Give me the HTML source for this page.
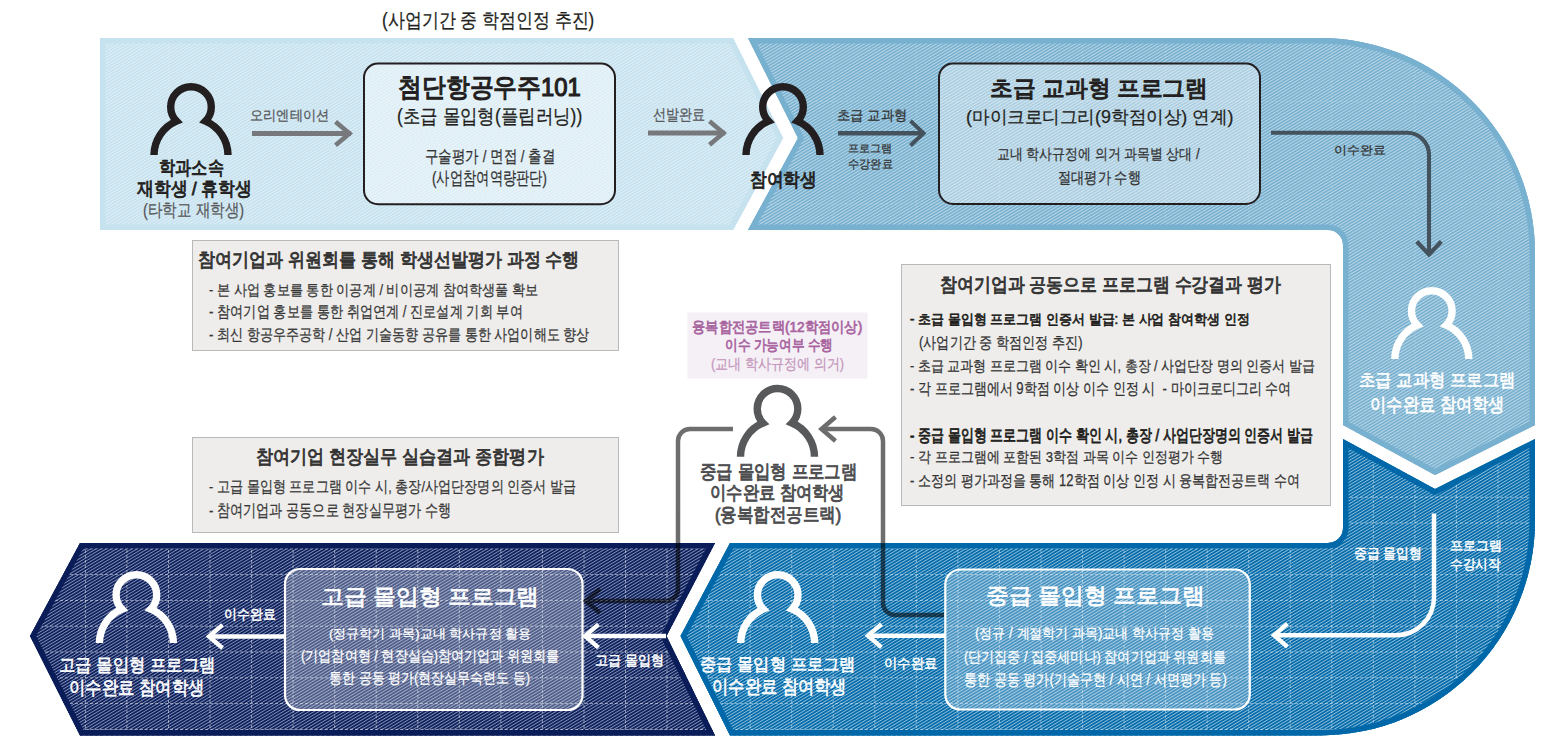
<!DOCTYPE html>
<html><head><meta charset="utf-8"><style>
html,body{margin:0;padding:0;background:#fff;}
body{width:1548px;height:743px;position:relative;overflow:hidden;font-family:"Liberation Sans",sans-serif;}
.t{position:absolute;white-space:pre;line-height:1;transform-origin:0 0;}
</style></head><body>
<svg width="1548" height="743" viewBox="0 0 1548 743" style="position:absolute;left:0;top:0"><defs><pattern id="hA" width="2.65" height="2.65" patternUnits="userSpaceOnUse" patternTransform="rotate(-31)"><rect width="2.65" height="2.65" fill="#c6e2ef"/><rect width="2.65" height="0.95" fill="#e0eff7"/></pattern><pattern id="hB" width="2.65" height="2.65" patternUnits="userSpaceOnUse" patternTransform="rotate(-31)"><rect width="2.65" height="2.65" fill="#78b0cf"/><rect width="2.65" height="0.95" fill="#bcd9e8"/></pattern><pattern id="hC" width="2.65" height="2.65" patternUnits="userSpaceOnUse" patternTransform="rotate(-31)"><rect width="2.65" height="2.65" fill="#0068a8"/><rect width="2.65" height="0.95" fill="#8ebfdc"/></pattern><pattern id="hD" width="2.65" height="2.65" patternUnits="userSpaceOnUse" patternTransform="rotate(-31)"><rect width="2.65" height="2.65" fill="#0a1d58"/><rect width="2.65" height="0.95" fill="#8390b8"/></pattern></defs><clipPath id="cA"><path d="M100,38 H733 L783,138 L733,230 H100 Z"/></clipPath><path d="M100,38 H733 L783,138 L733,230 H100 Z" fill="#c6e2ef"/><g clip-path="url(#cA)"><rect x="0" y="0" width="1548" height="743" fill="url(#hA)"/><g stroke="#ffffff" stroke-opacity="0.15" stroke-width="1" stroke-dasharray="3 2"><line x1="85.4" y1="0" x2="85.4" y2="743"/><line x1="168.5" y1="0" x2="168.5" y2="743"/><line x1="251.6" y1="0" x2="251.6" y2="743"/><line x1="334.7" y1="0" x2="334.7" y2="743"/><line x1="417.8" y1="0" x2="417.8" y2="743"/><line x1="500.9" y1="0" x2="500.9" y2="743"/><line x1="584.0" y1="0" x2="584.0" y2="743"/><line x1="667.0" y1="0" x2="667.0" y2="743"/><line x1="750.1" y1="0" x2="750.1" y2="743"/><line x1="833.2" y1="0" x2="833.2" y2="743"/><line x1="916.3" y1="0" x2="916.3" y2="743"/><line x1="999.4" y1="0" x2="999.4" y2="743"/><line x1="1082.5" y1="0" x2="1082.5" y2="743"/><line x1="1165.6" y1="0" x2="1165.6" y2="743"/><line x1="1248.7" y1="0" x2="1248.7" y2="743"/><line x1="1331.8" y1="0" x2="1331.8" y2="743"/><line x1="1414.9" y1="0" x2="1414.9" y2="743"/><line x1="1498.0" y1="0" x2="1498.0" y2="743"/><line x1="1581.1" y1="0" x2="1581.1" y2="743"/><line x1="0" y1="101.5" x2="1548" y2="101.5"/><line x1="0" y1="204.0" x2="1548" y2="204.0"/></g><path d="M100,38 H733 L783,138 L733,230 H100 Z" fill="none" stroke="#c6e2ef" stroke-width="11"/></g><clipPath id="cB"><path d="M748,38 H1320 A215,215 0 0 1 1535,253 V425 L1435,475 L1343,425 V245 A15,15 0 0 0 1328,230 H748 L798,138 Z"/></clipPath><path d="M748,38 H1320 A215,215 0 0 1 1535,253 V425 L1435,475 L1343,425 V245 A15,15 0 0 0 1328,230 H748 L798,138 Z" fill="#78b0cf"/><g clip-path="url(#cB)"><rect x="0" y="0" width="1548" height="743" fill="url(#hB)"/><g stroke="#ffffff" stroke-opacity="0.15" stroke-width="1" stroke-dasharray="3 2"><line x1="85.4" y1="0" x2="85.4" y2="743"/><line x1="168.5" y1="0" x2="168.5" y2="743"/><line x1="251.6" y1="0" x2="251.6" y2="743"/><line x1="334.7" y1="0" x2="334.7" y2="743"/><line x1="417.8" y1="0" x2="417.8" y2="743"/><line x1="500.9" y1="0" x2="500.9" y2="743"/><line x1="584.0" y1="0" x2="584.0" y2="743"/><line x1="667.0" y1="0" x2="667.0" y2="743"/><line x1="750.1" y1="0" x2="750.1" y2="743"/><line x1="833.2" y1="0" x2="833.2" y2="743"/><line x1="916.3" y1="0" x2="916.3" y2="743"/><line x1="999.4" y1="0" x2="999.4" y2="743"/><line x1="1082.5" y1="0" x2="1082.5" y2="743"/><line x1="1165.6" y1="0" x2="1165.6" y2="743"/><line x1="1248.7" y1="0" x2="1248.7" y2="743"/><line x1="1331.8" y1="0" x2="1331.8" y2="743"/><line x1="1414.9" y1="0" x2="1414.9" y2="743"/><line x1="1498.0" y1="0" x2="1498.0" y2="743"/><line x1="1581.1" y1="0" x2="1581.1" y2="743"/><line x1="0" y1="101.5" x2="1548" y2="101.5"/><line x1="0" y1="204.0" x2="1548" y2="204.0"/></g><path d="M748,38 H1320 A215,215 0 0 1 1535,253 V425 L1435,475 L1343,425 V245 A15,15 0 0 0 1328,230 H748 L798,138 Z" fill="none" stroke="#78b0cf" stroke-width="11"/></g><clipPath id="cC"><path d="M730,543 H1328 A15,15 0 0 0 1343,528 V439 L1435,489 L1535,439 V520.5 A215,215 0 0 1 1320,735.5 H730 L680.5,636 Z"/></clipPath><path d="M730,543 H1328 A15,15 0 0 0 1343,528 V439 L1435,489 L1535,439 V520.5 A215,215 0 0 1 1320,735.5 H730 L680.5,636 Z" fill="#0068a8"/><g clip-path="url(#cC)"><rect x="0" y="0" width="1548" height="743" fill="url(#hC)"/><g stroke="#ffffff" stroke-opacity="0.45" stroke-width="1" stroke-dasharray="3 2"><line x1="85.4" y1="0" x2="85.4" y2="743"/><line x1="126.9" y1="0" x2="126.9" y2="743"/><line x1="168.5" y1="0" x2="168.5" y2="743"/><line x1="210.0" y1="0" x2="210.0" y2="743"/><line x1="251.6" y1="0" x2="251.6" y2="743"/><line x1="293.1" y1="0" x2="293.1" y2="743"/><line x1="334.7" y1="0" x2="334.7" y2="743"/><line x1="376.2" y1="0" x2="376.2" y2="743"/><line x1="417.8" y1="0" x2="417.8" y2="743"/><line x1="459.3" y1="0" x2="459.3" y2="743"/><line x1="500.9" y1="0" x2="500.9" y2="743"/><line x1="542.4" y1="0" x2="542.4" y2="743"/><line x1="584.0" y1="0" x2="584.0" y2="743"/><line x1="625.5" y1="0" x2="625.5" y2="743"/><line x1="667.0" y1="0" x2="667.0" y2="743"/><line x1="708.6" y1="0" x2="708.6" y2="743"/><line x1="750.1" y1="0" x2="750.1" y2="743"/><line x1="791.7" y1="0" x2="791.7" y2="743"/><line x1="833.2" y1="0" x2="833.2" y2="743"/><line x1="874.8" y1="0" x2="874.8" y2="743"/><line x1="916.3" y1="0" x2="916.3" y2="743"/><line x1="957.9" y1="0" x2="957.9" y2="743"/><line x1="999.4" y1="0" x2="999.4" y2="743"/><line x1="1041.0" y1="0" x2="1041.0" y2="743"/><line x1="1082.5" y1="0" x2="1082.5" y2="743"/><line x1="1124.1" y1="0" x2="1124.1" y2="743"/><line x1="1165.6" y1="0" x2="1165.6" y2="743"/><line x1="1207.1" y1="0" x2="1207.1" y2="743"/><line x1="1248.7" y1="0" x2="1248.7" y2="743"/><line x1="1290.2" y1="0" x2="1290.2" y2="743"/><line x1="1331.8" y1="0" x2="1331.8" y2="743"/><line x1="1373.3" y1="0" x2="1373.3" y2="743"/><line x1="1414.9" y1="0" x2="1414.9" y2="743"/><line x1="1456.4" y1="0" x2="1456.4" y2="743"/><line x1="1498.0" y1="0" x2="1498.0" y2="743"/><line x1="1539.5" y1="0" x2="1539.5" y2="743"/><line x1="1581.1" y1="0" x2="1581.1" y2="743"/><line x1="1622.6" y1="0" x2="1622.6" y2="743"/><line x1="0" y1="497.2" x2="1548" y2="497.2"/><line x1="0" y1="523.0" x2="1548" y2="523.0"/><line x1="0" y1="548.8" x2="1548" y2="548.8"/><line x1="0" y1="574.6" x2="1548" y2="574.6"/><line x1="0" y1="600.4" x2="1548" y2="600.4"/><line x1="0" y1="626.2" x2="1548" y2="626.2"/><line x1="0" y1="652.0" x2="1548" y2="652.0"/><line x1="0" y1="677.8" x2="1548" y2="677.8"/><line x1="0" y1="703.6" x2="1548" y2="703.6"/><line x1="0" y1="729.4" x2="1548" y2="729.4"/></g><path d="M730,543 H1328 A15,15 0 0 0 1343,528 V439 L1435,489 L1535,439 V520.5 A215,215 0 0 1 1320,735.5 H730 L680.5,636 Z" fill="none" stroke="#0068a8" stroke-width="11"/></g><clipPath id="cD"><path d="M80,543 H715 L666.5,636 L715,735.5 H80 L30,636 Z"/></clipPath><path d="M80,543 H715 L666.5,636 L715,735.5 H80 L30,636 Z" fill="#0a1d58"/><g clip-path="url(#cD)"><rect x="0" y="0" width="1548" height="743" fill="url(#hD)"/><g stroke="#ffffff" stroke-opacity="0.5" stroke-width="1" stroke-dasharray="3 2"><line x1="85.4" y1="0" x2="85.4" y2="743"/><line x1="126.9" y1="0" x2="126.9" y2="743"/><line x1="168.5" y1="0" x2="168.5" y2="743"/><line x1="210.0" y1="0" x2="210.0" y2="743"/><line x1="251.6" y1="0" x2="251.6" y2="743"/><line x1="293.1" y1="0" x2="293.1" y2="743"/><line x1="334.7" y1="0" x2="334.7" y2="743"/><line x1="376.2" y1="0" x2="376.2" y2="743"/><line x1="417.8" y1="0" x2="417.8" y2="743"/><line x1="459.3" y1="0" x2="459.3" y2="743"/><line x1="500.9" y1="0" x2="500.9" y2="743"/><line x1="542.4" y1="0" x2="542.4" y2="743"/><line x1="584.0" y1="0" x2="584.0" y2="743"/><line x1="625.5" y1="0" x2="625.5" y2="743"/><line x1="667.0" y1="0" x2="667.0" y2="743"/><line x1="708.6" y1="0" x2="708.6" y2="743"/><line x1="750.1" y1="0" x2="750.1" y2="743"/><line x1="791.7" y1="0" x2="791.7" y2="743"/><line x1="833.2" y1="0" x2="833.2" y2="743"/><line x1="874.8" y1="0" x2="874.8" y2="743"/><line x1="916.3" y1="0" x2="916.3" y2="743"/><line x1="957.9" y1="0" x2="957.9" y2="743"/><line x1="999.4" y1="0" x2="999.4" y2="743"/><line x1="1041.0" y1="0" x2="1041.0" y2="743"/><line x1="1082.5" y1="0" x2="1082.5" y2="743"/><line x1="1124.1" y1="0" x2="1124.1" y2="743"/><line x1="1165.6" y1="0" x2="1165.6" y2="743"/><line x1="1207.1" y1="0" x2="1207.1" y2="743"/><line x1="1248.7" y1="0" x2="1248.7" y2="743"/><line x1="1290.2" y1="0" x2="1290.2" y2="743"/><line x1="1331.8" y1="0" x2="1331.8" y2="743"/><line x1="1373.3" y1="0" x2="1373.3" y2="743"/><line x1="1414.9" y1="0" x2="1414.9" y2="743"/><line x1="1456.4" y1="0" x2="1456.4" y2="743"/><line x1="1498.0" y1="0" x2="1498.0" y2="743"/><line x1="1539.5" y1="0" x2="1539.5" y2="743"/><line x1="1581.1" y1="0" x2="1581.1" y2="743"/><line x1="1622.6" y1="0" x2="1622.6" y2="743"/><line x1="0" y1="497.2" x2="1548" y2="497.2"/><line x1="0" y1="523.0" x2="1548" y2="523.0"/><line x1="0" y1="548.8" x2="1548" y2="548.8"/><line x1="0" y1="574.6" x2="1548" y2="574.6"/><line x1="0" y1="600.4" x2="1548" y2="600.4"/><line x1="0" y1="626.2" x2="1548" y2="626.2"/><line x1="0" y1="652.0" x2="1548" y2="652.0"/><line x1="0" y1="677.8" x2="1548" y2="677.8"/><line x1="0" y1="703.6" x2="1548" y2="703.6"/><line x1="0" y1="729.4" x2="1548" y2="729.4"/></g><path d="M80,543 H715 L666.5,636 L715,735.5 H80 L30,636 Z" fill="none" stroke="#0a1d58" stroke-width="11"/></g><rect x="364" y="63.6" width="251" height="140.6" rx="14" fill="#ffffff" fill-opacity="0.4" stroke="#231f20" stroke-width="2"/><rect x="939" y="63.6" width="321" height="140.4" rx="14" fill="#ffffff" fill-opacity="0.38" stroke="#231f20" stroke-width="2"/><rect x="285" y="569" width="297.5" height="141" rx="15" fill="#ffffff" fill-opacity="0.28" stroke="#ffffff" stroke-width="2.2"/><rect x="945.3" y="569.5" width="304.5" height="140" rx="15" fill="#ffffff" fill-opacity="0.28" stroke="#ffffff" stroke-width="2.2"/><rect x="192.5" y="240.5" width="426" height="110" fill="#eeedeb" stroke="#b9b9b9" stroke-width="1"/><rect x="192.5" y="437.5" width="426" height="95" fill="#eeedeb" stroke="#b9b9b9" stroke-width="1"/><rect x="901.5" y="264.5" width="429" height="241" fill="#eeedeb" stroke="#b9b9b9" stroke-width="1"/><rect x="687.5" y="312.5" width="180" height="66" fill="#f5eff6"/><line x1="252" y1="133.5" x2="351" y2="133.5" stroke="#77787b" stroke-width="5"/><polyline points="335.5,121.7 349.5,133.5 335.5,145.3" fill="none" stroke="#77787b" stroke-width="4.6" stroke-linejoin="miter" stroke-miterlimit="10"/><line x1="648" y1="133" x2="725" y2="133" stroke="#77787b" stroke-width="5"/><polyline points="709.5,121.2 723.5,133 709.5,144.8" fill="none" stroke="#77787b" stroke-width="4.6" stroke-linejoin="miter" stroke-miterlimit="10"/><line x1="838" y1="133.2" x2="922" y2="133.2" stroke="#44525e" stroke-width="4.4"/><polyline points="910.5,120.89999999999999 923.5,133.2 910.5,145.5" fill="none" stroke="#44525e" stroke-width="4.0" stroke-linejoin="miter" stroke-miterlimit="10"/><path d="M1271,132.8 H1407 A22,22 0 0 1 1429,154.8 V253" fill="none" stroke="#44525e" stroke-width="4.1"/><polyline points="1416.7,241.5 1429,254.5 1441.3,241.5" fill="none" stroke="#44525e" stroke-width="4.1" stroke-linejoin="miter" stroke-miterlimit="10"/><path d="M154.0,155.0 A37,37 0 0 1 176.5,121.2 A20.3,20.3 0 1 1 205.5,121.2 A37,37 0 0 1 228.0,155.0" fill="none" stroke="#231f20" stroke-width="7.4" stroke-linejoin="miter" stroke-miterlimit="4"/><path d="M746.0,155.0 A37,37 0 0 1 768.5,121.2 A20.3,20.3 0 1 1 797.5,121.2 A37,37 0 0 1 820.0,155.0" fill="none" stroke="#231f20" stroke-width="7.4" stroke-linejoin="miter" stroke-miterlimit="4"/><path d="M1394.8,359.0 A37,37 0 0 1 1417.3,325.2 A20.3,20.3 0 1 1 1446.3,325.2 A37,37 0 0 1 1468.8,359.0" fill="none" stroke="#ffffff" stroke-width="7.4" stroke-linejoin="miter" stroke-miterlimit="4"/><path d="M740.5,456.8 A37,37 0 0 1 763.0,423.0 A20.3,20.3 0 1 1 792.0,423.0 A37,37 0 0 1 814.5,456.8" fill="none" stroke="#58595b" stroke-width="7.4" stroke-linejoin="miter" stroke-miterlimit="4"/><path d="M99.4,643.0 A37,37 0 0 1 121.9,609.2 A20.3,20.3 0 1 1 150.9,609.2 A37,37 0 0 1 173.4,643.0" fill="none" stroke="#ffffff" stroke-width="7.4" stroke-linejoin="miter" stroke-miterlimit="4"/><path d="M740.7,643.0 A37,37 0 0 1 763.2,609.2 A20.3,20.3 0 1 1 792.2,609.2 A37,37 0 0 1 814.7,643.0" fill="none" stroke="#ffffff" stroke-width="7.4" stroke-linejoin="miter" stroke-miterlimit="4"/><g opacity="0.57"><path d="M733,429 H690 A12,12 0 0 0 678,441 V589 A12,12 0 0 1 666,601 H587" fill="none" stroke="#000" stroke-width="4.5"/><polyline points="600,589 586,601 600,613" fill="none" stroke="#000" stroke-width="4.5" stroke-linejoin="miter" stroke-miterlimit="10"/><path d="M944,615 H895 A12,12 0 0 1 883,603 V441 A12,12 0 0 0 871,429 H822" fill="none" stroke="#000" stroke-width="4.5"/><polyline points="835.5,417 821.5,429 835.5,441" fill="none" stroke="#000" stroke-width="4.5" stroke-linejoin="miter" stroke-miterlimit="10"/></g><line x1="209" y1="636.5" x2="284" y2="636.5" stroke="#fff" stroke-width="4.5"/><polyline points="222.5,624.9 209,636.5 222.5,648.1" fill="none" stroke="#fff" stroke-width="4.4" stroke-linejoin="miter" stroke-miterlimit="10"/><line x1="585" y1="636" x2="666" y2="636" stroke="#fff" stroke-width="4.5"/><polyline points="598.5,624.4 585,636 598.5,647.6" fill="none" stroke="#fff" stroke-width="4.4" stroke-linejoin="miter" stroke-miterlimit="10"/><line x1="868" y1="635.7" x2="945" y2="635.7" stroke="#fff" stroke-width="4.5"/><polyline points="881.5,624.1 868,635.7 881.5,647.3000000000001" fill="none" stroke="#fff" stroke-width="4.4" stroke-linejoin="miter" stroke-miterlimit="10"/><path d="M1434,513.6 V597.3 A38,38 0 0 1 1396,635.3 H1275" fill="none" stroke="#fff" stroke-width="4.5"/><polyline points="1287.5,623.6999999999999 1274,635.3 1287.5,646.9" fill="none" stroke="#fff" stroke-width="4.4" stroke-linejoin="miter" stroke-miterlimit="10"/></svg>
<div class="t" style="left:381.86px;top:10.33px;font-size:20.00px;font-weight:400;color:#231f20;-webkit-text-stroke:0.25px #231f20;transform:scaleX(0.8491)">(사업기간 중 학점인정 추진)</div><div class="t" style="left:398.40px;top:73.83px;font-size:26.01px;font-weight:400;color:#231f20;-webkit-text-stroke:1.22px #231f20;transform:scaleX(0.9167)">첨단항공우주101</div><div class="t" style="left:396.84px;top:106.33px;font-size:20.00px;font-weight:400;color:#231f20;-webkit-text-stroke:0.25px #231f20;transform:scaleX(0.8728)">(초급 몰입형(플립러닝))</div><div class="t" style="left:424.89px;top:148.88px;font-size:16.80px;font-weight:400;color:#333333;-webkit-text-stroke:0.25px #333333;transform:scaleX(0.7938)">구술평가 / 면접 / 출결</div><div class="t" style="left:432.12px;top:170.45px;font-size:17.96px;font-weight:400;color:#333333;-webkit-text-stroke:0.25px #333333;transform:scaleX(0.7375)">(사업참여역량판단)</div><div class="t" style="left:158.89px;top:158.38px;font-size:19.44px;font-weight:400;color:#231f20;-webkit-text-stroke:0.92px #231f20;transform:scaleX(0.8517)">학과소속</div><div class="t" style="left:136.72px;top:180.38px;font-size:18.78px;font-weight:400;color:#231f20;-webkit-text-stroke:0.9px #231f20;transform:scaleX(0.8849)">재학생 / 휴학생</div><div class="t" style="left:143.04px;top:202.43px;font-size:17.96px;font-weight:400;color:#58595b;-webkit-text-stroke:0.25px #58595b;transform:scaleX(0.8090)">(타학교 재학생)</div><div class="t" style="left:250.10px;top:107.80px;font-size:14.44px;font-weight:400;color:#58595b;-webkit-text-stroke:0.25px #58595b;transform:scaleX(0.9414)">오리엔테이션</div><div class="t" style="left:653.35px;top:106.68px;font-size:15.81px;font-weight:400;color:#58595b;-webkit-text-stroke:0.25px #58595b;transform:scaleX(0.8161)">선발완료</div><div class="t" style="left:749.88px;top:170.36px;font-size:19.16px;font-weight:400;color:#231f20;-webkit-text-stroke:0.91px #231f20;transform:scaleX(0.8791)">참여학생</div><div class="t" style="left:837.10px;top:107.82px;font-size:14.11px;font-weight:400;color:#333333;-webkit-text-stroke:0.25px #333333;transform:scaleX(0.9522)">초급 교과형</div><div class="t" style="left:848.29px;top:143.10px;font-size:10.78px;font-weight:400;color:#333333;-webkit-text-stroke:0.25px #333333;transform:scaleX(1.0065)">프로그램</div><div class="t" style="left:848.24px;top:157.98px;font-size:12.22px;font-weight:400;color:#333333;-webkit-text-stroke:0.25px #333333;transform:scaleX(0.9335)">수강완료</div><div class="t" style="left:990.46px;top:77.00px;font-size:23.49px;font-weight:400;color:#231f20;-webkit-text-stroke:1.11px #231f20;transform:scaleX(0.9900)">초급 교과형 프로그램</div><div class="t" style="left:965.81px;top:108.47px;font-size:18.32px;font-weight:400;color:#231f20;-webkit-text-stroke:0.25px #231f20;transform:scaleX(0.9771)">(마이크로디그리(9학점이상) 연계)</div><div class="t" style="left:997.11px;top:145.71px;font-size:15.44px;font-weight:400;color:#333333;-webkit-text-stroke:0.25px #333333;transform:scaleX(0.8597)">교내 학사규정에 의거 과목별 상대 /</div><div class="t" style="left:1058.14px;top:169.63px;font-size:15.73px;font-weight:400;color:#333333;-webkit-text-stroke:0.25px #333333;transform:scaleX(0.8260)">절대평가 수행</div><div class="t" style="left:1333.75px;top:144.95px;font-size:11.90px;font-weight:400;color:#333333;-webkit-text-stroke:0.25px #333333;transform:scaleX(1.0761)">이수완료</div><div class="t" style="left:197.86px;top:250.36px;font-size:19.16px;font-weight:400;color:#333333;-webkit-text-stroke:0.91px #333333;transform:scaleX(0.8963)">참여기업과 위원회를 통해 학생선발평가 과정 수행</div><div class="t" style="left:209.32px;top:282.67px;font-size:14.56px;font-weight:400;color:#383838;-webkit-text-stroke:0.25px #383838;transform:scaleX(0.8778)">- 본 사업 홍보를 통한 이공계 / 비이공계 참여학생풀 확보</div><div class="t" style="left:209.34px;top:302.66px;font-size:16.11px;font-weight:400;color:#383838;-webkit-text-stroke:0.25px #383838;transform:scaleX(0.8221)">- 참여기업 홍보를 통한 취업연계 / 진로설계 기회 부여</div><div class="t" style="left:209.35px;top:325.66px;font-size:16.11px;font-weight:400;color:#383838;-webkit-text-stroke:0.25px #383838;transform:scaleX(0.8162)">- 최신 항공우주공학 / 산업 기술동향 공유를 통한 사업이해도 향상</div><div class="t" style="left:255.89px;top:448.39px;font-size:18.57px;font-weight:400;color:#333333;-webkit-text-stroke:0.89px #333333;transform:scaleX(0.9003)">참여기업 현장실무 실습결과 종합평가</div><div class="t" style="left:209.34px;top:478.62px;font-size:15.53px;font-weight:400;color:#383838;-webkit-text-stroke:0.25px #383838;transform:scaleX(0.8193)">- 고급 몰입형 프로그램 이수 시, 총장/사업단장명의 인증서 발급</div><div class="t" style="left:209.34px;top:501.57px;font-size:17.11px;font-weight:400;color:#383838;-webkit-text-stroke:0.25px #383838;transform:scaleX(0.7711)">- 참여기업과 공동으로 현장실무평가 수행</div><div class="t" style="left:939.84px;top:275.38px;font-size:19.44px;font-weight:400;color:#333333;-webkit-text-stroke:0.92px #333333;transform:scaleX(0.8912)">참여기업과 공동으로 프로그램 수강결과 평가</div><div class="t" style="left:910.34px;top:311.80px;font-size:14.23px;font-weight:400;color:#231f20;-webkit-text-stroke:0.69px #231f20;transform:scaleX(0.9276)">- 초급 몰입형 프로그램 인증서 발급: 본 사업 참여학생 인정</div><div class="t" style="left:919.14px;top:334.68px;font-size:15.79px;font-weight:400;color:#333333;-webkit-text-stroke:0.25px #333333;transform:scaleX(0.8195)">(사업기간 중 학점인정 추진)</div><div class="t" style="left:910.34px;top:358.74px;font-size:14.58px;font-weight:400;color:#333333;-webkit-text-stroke:0.25px #333333;transform:scaleX(0.8676)">- 초급 교과형 프로그램 이수 확인 시, 총장 / 사업단장 명의 인증서 발급</div><div class="t" style="left:910.35px;top:379.66px;font-size:16.11px;font-weight:400;color:#333333;-webkit-text-stroke:0.25px #333333;transform:scaleX(0.8131)">- 각 프로그램에서 9학점 이상 이수 인정 시  - 마이크로디그리 수여</div><div class="t" style="left:910.34px;top:426.57px;font-size:17.11px;font-weight:400;color:#231f20;-webkit-text-stroke:0.82px #231f20;transform:scaleX(0.7658)">- 중급 몰입형 프로그램 이수 확인 시, 총장 / 사업단장명의 인증서 발급</div><div class="t" style="left:910.35px;top:448.70px;font-size:15.22px;font-weight:400;color:#333333;-webkit-text-stroke:0.25px #333333;transform:scaleX(0.8650)">- 각 프로그램에 포함된 3학점 과목 이수 인정평가 수행</div><div class="t" style="left:910.35px;top:472.60px;font-size:15.93px;font-weight:400;color:#333333;-webkit-text-stroke:0.25px #333333;transform:scaleX(0.8147)">- 소정의 평가과정을 통해 12학점 이상 인정 시 융복합전공트랙 수여</div><div class="t" style="left:692.11px;top:318.72px;font-size:15.37px;font-weight:400;color:#a8649f;-webkit-text-stroke:0.74px #a8649f;transform:scaleX(0.8850)">융복합전공트랙(12학점이상)</div><div class="t" style="left:724.77px;top:337.78px;font-size:14.58px;font-weight:400;color:#a8649f;-webkit-text-stroke:0.71px #a8649f;transform:scaleX(0.8426)">이수 가능여부 수행</div><div class="t" style="left:711.14px;top:356.75px;font-size:14.95px;font-weight:400;color:#c497bb;-webkit-text-stroke:0.25px #c497bb;transform:scaleX(0.8678)">(교내 학사규정에 의거)</div><div class="t" style="left:699.89px;top:462.36px;font-size:19.16px;font-weight:400;color:#4d4d4f;-webkit-text-stroke:0.91px #4d4d4f;transform:scaleX(0.8666)">중급 몰입형 프로그램</div><div class="t" style="left:710.34px;top:483.34px;font-size:19.17px;font-weight:400;color:#4d4d4f;-webkit-text-stroke:0.91px #4d4d4f;transform:scaleX(0.8563)">이수완료 참여학생</div><div class="t" style="left:714.91px;top:506.38px;font-size:18.84px;font-weight:400;color:#4d4d4f;-webkit-text-stroke:0.9px #4d4d4f;transform:scaleX(0.8671)">(융복합전공트랙)</div><div class="t" style="left:1358.89px;top:371.34px;font-size:18.28px;font-weight:400;color:#ffffff;-webkit-text-stroke:0.64px #ffffff;transform:scaleX(0.9091)">초급 교과형 프로그램</div><div class="t" style="left:1370.40px;top:396.38px;font-size:18.57px;font-weight:400;color:#ffffff;-webkit-text-stroke:0.64px #ffffff;transform:scaleX(0.8567)">이수완료 참여학생</div><div class="t" style="left:1354.16px;top:545.70px;font-size:14.18px;font-weight:400;color:#ffffff;-webkit-text-stroke:0.5px #ffffff;transform:scaleX(0.9196)">중급 몰입형</div><div class="t" style="left:1450.08px;top:538.85px;font-size:13.02px;font-weight:400;color:#ffffff;-webkit-text-stroke:0.47px #ffffff;transform:scaleX(1.0006)">프로그램</div><div class="t" style="left:1450.11px;top:557.88px;font-size:13.65px;font-weight:400;color:#ffffff;-webkit-text-stroke:0.49px #ffffff;transform:scaleX(0.9009)">수강시작</div><div class="t" style="left:986.47px;top:585.08px;font-size:21.75px;font-weight:400;color:#ffffff;-webkit-text-stroke:0.75px #ffffff;transform:scaleX(1.0404)">중급 몰입형 프로그램</div><div class="t" style="left:975.11px;top:625.77px;font-size:14.42px;font-weight:400;color:#ffffff;-webkit-text-stroke:0.25px #ffffff;transform:scaleX(0.9265)">(정규 / 계절학기 과목)교내 학사규정 활용</div><div class="t" style="left:964.16px;top:649.78px;font-size:14.63px;font-weight:400;color:#ffffff;-webkit-text-stroke:0.25px #ffffff;transform:scaleX(0.8721)">(단기집중 / 집중세미나) 참여기업과 위원회를</div><div class="t" style="left:964.15px;top:671.68px;font-size:15.79px;font-weight:400;color:#ffffff;-webkit-text-stroke:0.25px #ffffff;transform:scaleX(0.8158)">통한 공동 평가(기술구현 / 시연 / 서면평가 등)</div><div class="t" style="left:883.70px;top:656.84px;font-size:13.52px;font-weight:400;color:#ffffff;-webkit-text-stroke:0.48px #ffffff;transform:scaleX(0.9505)">이수완료</div><div class="t" style="left:699.90px;top:655.56px;font-size:17.22px;font-weight:400;color:#ffffff;-webkit-text-stroke:0.6px #ffffff;transform:scaleX(0.9581)">중급 몰입형 프로그램</div><div class="t" style="left:712.39px;top:678.40px;font-size:18.58px;font-weight:400;color:#ffffff;-webkit-text-stroke:0.64px #ffffff;transform:scaleX(0.8566)">이수완료 참여학생</div><div class="t" style="left:321.47px;top:586.12px;font-size:21.98px;font-weight:400;color:#ffffff;-webkit-text-stroke:0.75px #ffffff;transform:scaleX(1.0385)">고급 몰입형 프로그램</div><div class="t" style="left:329.11px;top:626.86px;font-size:13.18px;font-weight:400;color:#ffffff;-webkit-text-stroke:0.25px #ffffff;transform:scaleX(1.0026)">(정규학기 과목)교내 학사규정 활용</div><div class="t" style="left:301.15px;top:648.78px;font-size:14.63px;font-weight:400;color:#ffffff;-webkit-text-stroke:0.25px #ffffff;transform:scaleX(0.8735)">(기업참여형 / 현장실습)참여기업과 위원회를</div><div class="t" style="left:329.13px;top:669.75px;font-size:15.05px;font-weight:400;color:#ffffff;-webkit-text-stroke:0.25px #ffffff;transform:scaleX(0.8646)">통한 공동 평가(현장실무숙련도 등)</div><div class="t" style="left:595.14px;top:653.74px;font-size:13.96px;font-weight:400;color:#ffffff;-webkit-text-stroke:0.5px #ffffff;transform:scaleX(0.9344)">고급 몰입형</div><div class="t" style="left:223.67px;top:606.77px;font-size:14.22px;font-weight:400;color:#ffffff;-webkit-text-stroke:0.51px #ffffff;transform:scaleX(0.9199)">이수완료</div><div class="t" style="left:58.94px;top:657.45px;font-size:17.55px;font-weight:400;color:#ffffff;-webkit-text-stroke:0.61px #ffffff;transform:scaleX(0.9105)">고급 몰입형 프로그램</div><div class="t" style="left:69.37px;top:679.40px;font-size:18.66px;font-weight:400;color:#ffffff;-webkit-text-stroke:0.65px #ffffff;transform:scaleX(0.8601)">이수완료 참여학생</div>
</body></html>
